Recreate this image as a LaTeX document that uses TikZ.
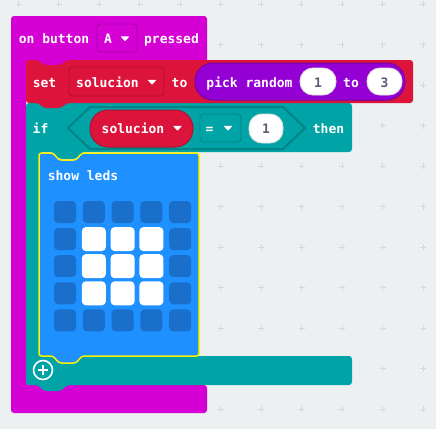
\documentclass[tikz,border=0pt]{standalone}
\usepackage{fontspec}
\setmonofont{DejaVu Sans Mono}
\usepackage{xcolor}
\usepackage{tikz}

\definecolor{bgcol}{HTML}{ECF0F1}
\definecolor{gridcol}{HTML}{D3D8DB}
\definecolor{inputmag}{HTML}{D400D4}
\definecolor{inputmagdark}{HTML}{A900A9}
\definecolor{varred}{HTML}{DC143C}
\definecolor{varreddark}{HTML}{B0102F}
\definecolor{mathpurple}{HTML}{9400D3}
\definecolor{mathpurpledark}{HTML}{7400A6}
\definecolor{logicteal}{HTML}{00A4A6}
\definecolor{logictealdark}{HTML}{008486}
\definecolor{basicblue}{HTML}{1E90FF}
\definecolor{ledoff}{HTML}{1A6FCB}
\definecolor{selyellow}{HTML}{FFF200}
\definecolor{numgray}{HTML}{575E75}

\tikzset{
  lbl/.style={text=white, anchor=base, inner sep=0pt,
    font=\ttfamily\bfseries\fontsize{13}{13}\selectfont},
  numlbl/.style={lbl, text=numgray},
  gridmark/.style={gridcol, line width=0.8pt},
  blockshape/.style={rounded corners=3pt},
  dropbox/.style={rounded corners=3.5pt, line width=0.9pt},
  pill/.style={rounded corners=13pt, line width=0.9pt},
  bigpill/.style={rounded corners=18pt, line width=1pt},
  ledbox/.style={rounded corners=4pt}
}

\newcommand{\droptri}[2]{\fill[white, rounded corners=0.6pt] (#1-4.5,#2-2.2) -- (#1+4.5,#2-2.2) -- (#1,#2+2.8) -- cycle;}

\begin{document}
\begin{tikzpicture}[x=1pt,y=-1pt]
                %% workspace
                \fill[bgcol] (0,0) rectangle (436,429);
                \useasboundingbox (0,0) rectangle (436,429);
                \foreach \i in {0,...,10}
                  \foreach \j in {0,...,10}
                    \draw[gridmark] (18+40.5*\i-3,4+40.5*\j) -- ++(6,0)
                                    (18+40.5*\i,4+40.5*\j-3) -- ++(0,6);

                %% on button pressed
                \fill[inputmag, blockshape] (11,16) -- (207,16) -- (207,66) -- (26,66)
                    -- (26,385) -- (207,385) -- (207,413) -- (11,413) -- cycle;
                \draw[inputmagdark, fill=inputmag, dropbox] (97,24) rectangle (137,52);
                \node[lbl] (onbutton) at (54,43) {on button};
                \node[lbl] (btnA) at (108,43) {A};
                \droptri{125}{38.5}
                \node[lbl] (pressed) at (171.5,43) {pressed};

                %% if then
                \fill[logicteal, blockshape] (26,103) -- (352,103) -- (352,152) -- (82,152)
                    -- (76,159) -- (59,159) -- (53,152) -- (40,152) -- (40,356)
                    -- (352,356) -- (352,385) -- (67,385) -- (61,391) -- (44,391)
                    -- (38,385) -- (26,385) -- cycle;
                \draw[logictealdark, line width=2pt, line join=round]
                    (68,128) -- (90,107) -- (283,107) -- (305,128) -- (283,149) -- (90,149) -- cycle;
                \node[lbl] (iflbl) at (40.5,133) {if};
                \draw[varreddark, fill=varred, bigpill] (90,110) rectangle (193,147);
                \node[lbl] (condvar) at (133,133) {solucion};
                \droptri{177.5}{128}
                \draw[logictealdark, fill=logicteal, dropbox] (200,114) rectangle (241,142);
                \node[lbl] (eqop) at (209.5,133) {=};
                \droptri{228}{128}
                \draw[black!12, fill=white, pill] (249,114) rectangle (283,143);
                \node[numlbl] (condnum) at (266,133) {1};
                \node[lbl] (thenlbl) at (328.5,133) {then};

                %% set solucion
                \fill[varred, blockshape] (26,60) -- (38,60) -- (44,65) -- (61,65) -- (67,60)
                    -- (413,60) -- (413,103) -- (67,103) -- (61,108) -- (44,108)
                    -- (38,103) -- (26,103) -- cycle;
                \node[lbl] (setlbl) at (44.5,87) {set};
                \draw[varreddark, fill=varred, dropbox] (69,67) rectangle (164,96);
                \node[lbl] (setvar) at (107.5,87) {solucion};
                \droptri{152}{82}
                \node[lbl] (tolbl) at (179.5,87) {to};
                \draw[mathpurpledark, fill=mathpurple, bigpill] (195,63) rectangle (405,100);
                \node[lbl] (pickrnd) at (249.5,87) {pick random};
                \draw[black!12, fill=white, pill] (300,68) rectangle (336,95);
                \node[numlbl] (rndlow) at (318,87) {1};
                \node[lbl] (rndto) at (351,87) {to};
                \draw[black!12, fill=white, pill] (367,68) rectangle (402,95);
                \node[numlbl] (rndhigh) at (384.5,87) {3};

                %% show leds
                \draw[selyellow, fill=basicblue, line width=1.5pt, rounded corners=2.5pt]
                    (39,153) -- (53,153) -- (59,160) -- (76,160) -- (82,153) -- (199,153)
                    -- (199,356) -- (82,356) -- (76,363) -- (59,363) -- (53,356)
                    -- (39,356) -- cycle;
                \node[lbl] (showleds) at (83,180) {show leds};
                \foreach \c in {0,...,4}
                  \foreach \r in {0,...,4}
                    \fill[ledoff, ledbox] (54+28.8*\c,201+27.1*\r) rectangle ++(22,22);
                \foreach \c in {1,2,3}
                  \foreach \r in {1,2,3}
                    \fill[white, ledbox] (53+28.8*\c,200+27.1*\r) rectangle ++(24,24);

                %% add button
                \node[circle, draw=white, line width=1.6pt, minimum size=19pt, inner sep=0pt]
                    (addbtn) at (43,370) {};
                \draw[white, line width=2.8pt] ([xshift=-5pt]addbtn.center) -- ([xshift=5pt]addbtn.center);
                \draw[white, line width=2.8pt] ([yshift=-5pt]addbtn.center) -- ([yshift=5pt]addbtn.center);

\end{tikzpicture}
\end{document}
